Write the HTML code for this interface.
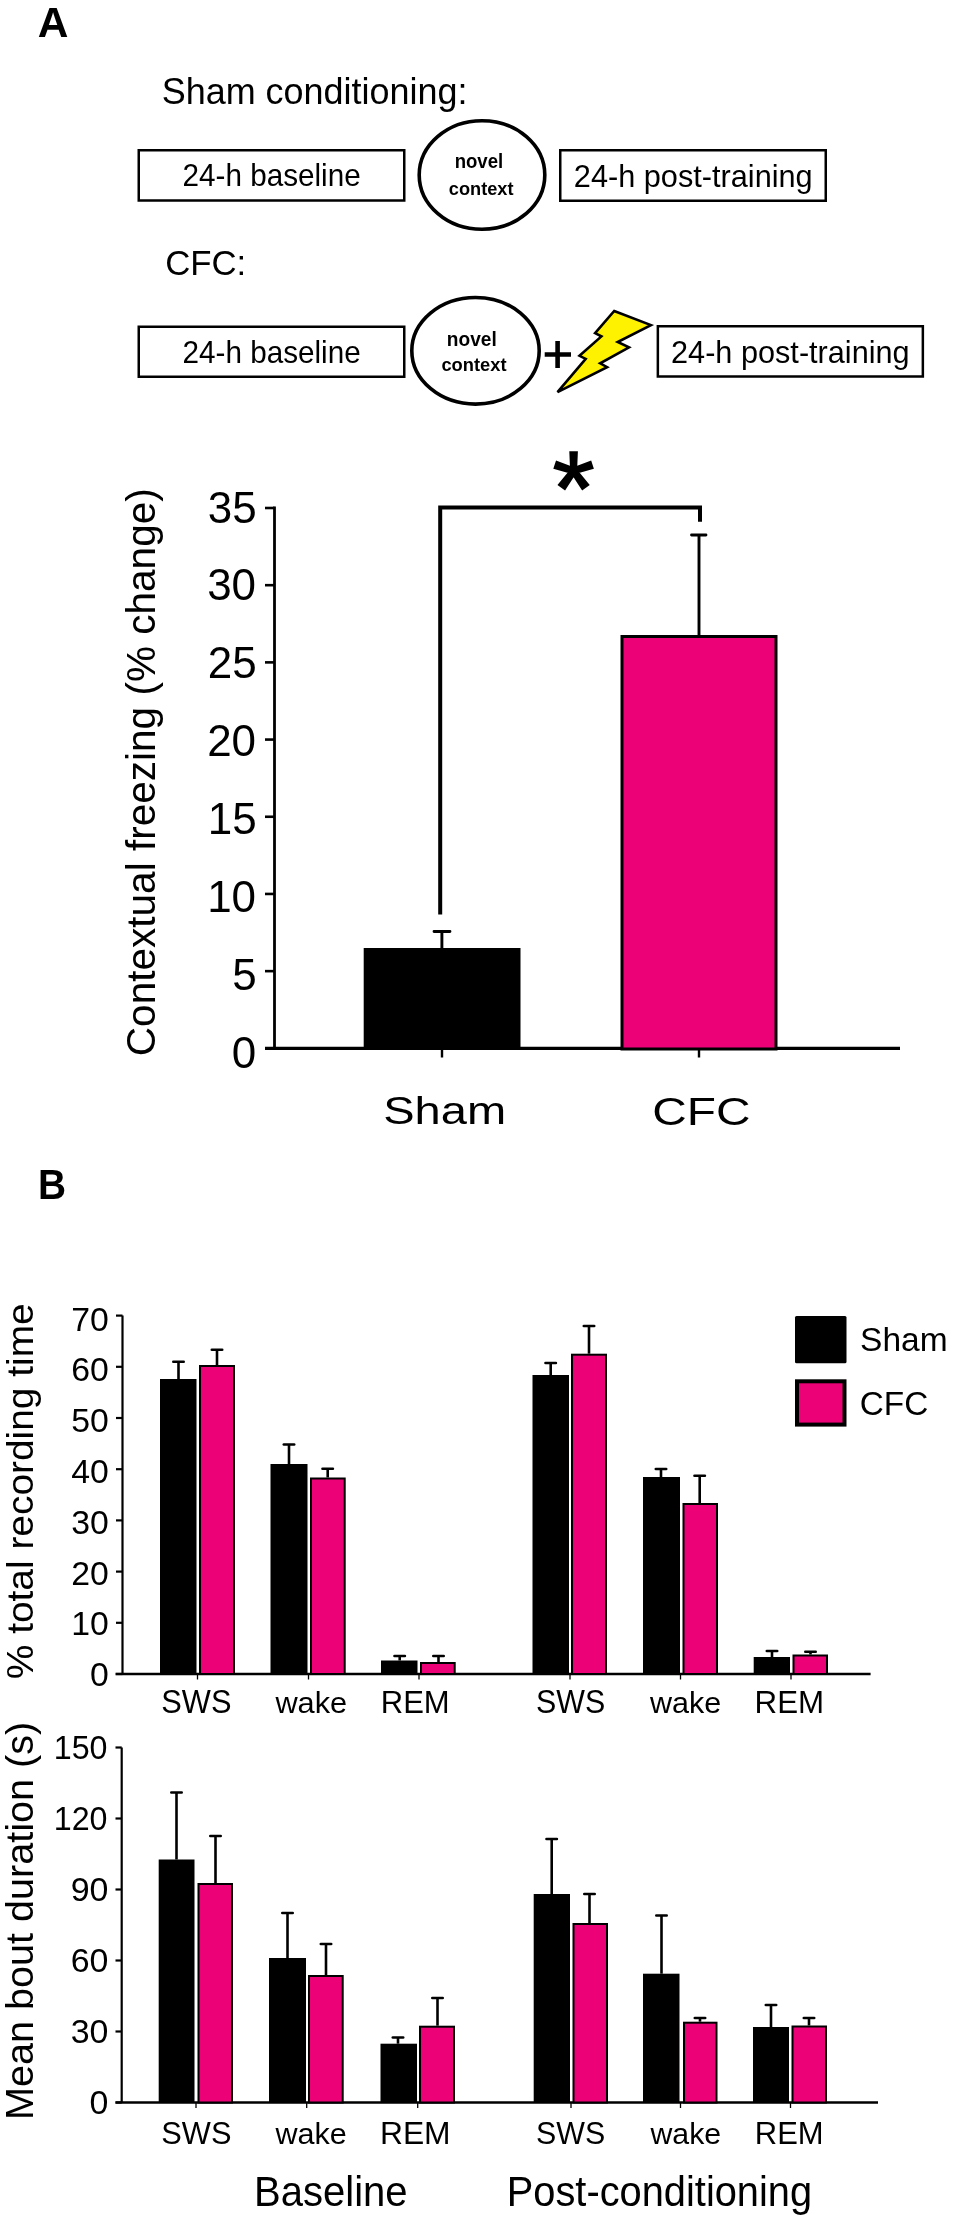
<!DOCTYPE html>
<html><head><meta charset="utf-8"><style>
html,body{margin:0;padding:0;background:#fff;}
svg{display:block;will-change:transform;}
text{font-family:"Liberation Sans",sans-serif;fill:#000;}
</style></head><body>
<svg width="957" height="2218" viewBox="0 0 957 2218">
<rect width="957" height="2218" fill="#fff"/>
<rect x="138.75" y="150.25" width="265.5" height="50.25" fill="none" stroke="#000" stroke-width="2.5"/>
<rect x="560.25" y="150.25" width="265.5" height="50.5" fill="none" stroke="#000" stroke-width="2.5"/>
<rect x="138.75" y="326.75" width="265.5" height="50" fill="none" stroke="#000" stroke-width="2.5"/>
<rect x="657.85" y="326.25" width="265" height="50.25" fill="none" stroke="#000" stroke-width="2.5"/>
<ellipse cx="482" cy="175" rx="62.8" ry="54.3" fill="none" stroke="#000" stroke-width="3.6"/>
<ellipse cx="475.5" cy="350.8" rx="63.7" ry="53.3" fill="none" stroke="#000" stroke-width="3.6"/>
<path d="M544.7 354.5H571M557.6 341V368" stroke="#000" stroke-width="4.6" fill="none"/>
<polygon points="614.2,311.0 650.9,325.1 617.7,342.0 629.0,347.4 600.2,363.3 607.1,367.1 557.5,392.2 585.7,358.9 579.5,355.8 601.4,336.4 595.1,333.2" fill="#FFF200" stroke="#000" stroke-width="2.6" stroke-linejoin="miter"/>
<path d="M274.5 506.6V1048.4" stroke="#000" stroke-width="2.8"/>
<path d="M265 508.00H274.5" stroke="#000" stroke-width="2.6"/>
<path d="M265 585.19H274.5" stroke="#000" stroke-width="2.6"/>
<path d="M265 662.38H274.5" stroke="#000" stroke-width="2.6"/>
<path d="M265 739.57H274.5" stroke="#000" stroke-width="2.6"/>
<path d="M265 816.76H274.5" stroke="#000" stroke-width="2.6"/>
<path d="M265 893.95H274.5" stroke="#000" stroke-width="2.6"/>
<path d="M265 971.14H274.5" stroke="#000" stroke-width="2.6"/>
<path d="M265 1048.33H274.5" stroke="#000" stroke-width="2.6"/>
<path d="M265 1048.4H900" stroke="#000" stroke-width="3.3"/>
<rect x="363.7" y="948" width="156.8" height="100.4" fill="#000"/>
<rect x="622" y="636.5" width="154" height="412.5" fill="#EC0176" stroke="#000" stroke-width="3"/>
<path d="M441.9 948V931.5M699 635V535" stroke="#000" stroke-width="2.9"/>
<path d="M434 931.5H450M691.5 535H706" stroke="#000" stroke-width="2.8" stroke-linecap="round"/>
<path d="M442 1048V1057.5M699 1048V1057.5" stroke="#000" stroke-width="2.4"/>
<path d="M440.2 914.6V507.6H700V521.7" stroke="#000" stroke-width="4" fill="none"/>
<path d="M577.00 472.80L577.90 451.20L569.30 451.20L570.20 472.80ZM576.55 468.18L556.03 460.47L553.31 468.84L574.45 474.65ZM572.75 474.65L593.89 468.84L591.17 460.47L570.65 468.18ZM572.02 467.18L557.45 485.03L565.06 490.55L577.53 471.18ZM569.67 471.18L582.14 490.55L589.75 485.03L575.18 467.18Z" fill="#000"/>
<path d="M122.5 1315.5V1674" stroke="#000" stroke-width="2.2"/>
<path d="M115.5 1674H870.6" stroke="#000" stroke-width="2.4"/>
<rect x="160" y="1379" width="36.50" height="295.00" fill="#000"/>
<path d="M178.5 1379V1361.7" stroke="#000" stroke-width="2.6"/>
<path d="M173.30 1361.7H183.70" stroke="#000" stroke-width="2.6" stroke-linecap="round"/>
<rect x="200.00" y="1366.00" width="34.00" height="308.00" fill="#EC0176" stroke="#000" stroke-width="2"/>
<path d="M217 1365V1349.75" stroke="#000" stroke-width="2.6"/>
<path d="M211.80 1349.75H222.20" stroke="#000" stroke-width="2.6" stroke-linecap="round"/>
<rect x="270.5" y="1464" width="37.00" height="210.00" fill="#000"/>
<path d="M289 1464V1444.5" stroke="#000" stroke-width="2.6"/>
<path d="M283.80 1444.5H294.20" stroke="#000" stroke-width="2.6" stroke-linecap="round"/>
<rect x="311.00" y="1478.50" width="33.70" height="195.50" fill="#EC0176" stroke="#000" stroke-width="2"/>
<path d="M327.7 1477.5V1468.7" stroke="#000" stroke-width="2.6"/>
<path d="M322.50 1468.7H332.90" stroke="#000" stroke-width="2.6" stroke-linecap="round"/>
<rect x="381" y="1660.5" width="36.50" height="13.50" fill="#000"/>
<path d="M399.7 1660.5V1656" stroke="#000" stroke-width="2.6"/>
<path d="M394.50 1656H404.90" stroke="#000" stroke-width="2.6" stroke-linecap="round"/>
<rect x="421.00" y="1663.00" width="33.70" height="11.00" fill="#EC0176" stroke="#000" stroke-width="2"/>
<path d="M438.5 1662V1656" stroke="#000" stroke-width="2.6"/>
<path d="M433.30 1656H443.70" stroke="#000" stroke-width="2.6" stroke-linecap="round"/>
<rect x="532.5" y="1375" width="36.50" height="299.00" fill="#000"/>
<path d="M550.7 1375V1363" stroke="#000" stroke-width="2.6"/>
<path d="M545.50 1363H555.90" stroke="#000" stroke-width="2.6" stroke-linecap="round"/>
<rect x="572.00" y="1354.70" width="34.00" height="319.30" fill="#EC0176" stroke="#000" stroke-width="2"/>
<path d="M589 1353.7V1326" stroke="#000" stroke-width="2.6"/>
<path d="M583.80 1326H594.20" stroke="#000" stroke-width="2.6" stroke-linecap="round"/>
<rect x="643" y="1477" width="37.00" height="197.00" fill="#000"/>
<path d="M661 1477V1469" stroke="#000" stroke-width="2.6"/>
<path d="M655.80 1469H666.20" stroke="#000" stroke-width="2.6" stroke-linecap="round"/>
<rect x="683.50" y="1504.00" width="33.50" height="170.00" fill="#EC0176" stroke="#000" stroke-width="2"/>
<path d="M699.7 1503V1475.7" stroke="#000" stroke-width="2.6"/>
<path d="M694.50 1475.7H704.90" stroke="#000" stroke-width="2.6" stroke-linecap="round"/>
<rect x="753.7" y="1657" width="36.30" height="17.00" fill="#000"/>
<path d="M772 1657V1651" stroke="#000" stroke-width="2.6"/>
<path d="M766.80 1651H777.20" stroke="#000" stroke-width="2.6" stroke-linecap="round"/>
<rect x="793.50" y="1655.50" width="33.50" height="18.50" fill="#EC0176" stroke="#000" stroke-width="2"/>
<path d="M810.5 1654.5V1651.7" stroke="#000" stroke-width="2.6"/>
<path d="M805.30 1651.7H815.70" stroke="#000" stroke-width="2.6" stroke-linecap="round"/>
<path d="M197.5 1674V1679.5" stroke="#000" stroke-width="1.3"/>
<path d="M308.5 1674V1679.5" stroke="#000" stroke-width="1.3"/>
<path d="M419 1674V1679.5" stroke="#000" stroke-width="1.3"/>
<path d="M570 1674V1679.5" stroke="#000" stroke-width="1.3"/>
<path d="M680.5 1674V1679.5" stroke="#000" stroke-width="1.3"/>
<path d="M791 1674V1679.5" stroke="#000" stroke-width="1.3"/>
<path d="M116 1674.00H122.5" stroke="#000" stroke-width="2.2"/>
<path d="M116 1622.80H122.5" stroke="#000" stroke-width="2.2"/>
<path d="M116 1571.60H122.5" stroke="#000" stroke-width="2.2"/>
<path d="M116 1520.40H122.5" stroke="#000" stroke-width="2.2"/>
<path d="M116 1469.20H122.5" stroke="#000" stroke-width="2.2"/>
<path d="M116 1418.00H122.5" stroke="#000" stroke-width="2.2"/>
<path d="M116 1366.80H122.5" stroke="#000" stroke-width="2.2"/>
<path d="M116 1315.60H122.5" stroke="#000" stroke-width="2.2"/>
<path d="M121.7 1747.5V2102.5" stroke="#000" stroke-width="2.2"/>
<path d="M115.5 2102.5H878" stroke="#000" stroke-width="2.4"/>
<rect x="158.7" y="1859.5" width="35.80" height="243.00" fill="#000"/>
<path d="M176.5 1859.5V1792.5" stroke="#000" stroke-width="2.6"/>
<path d="M171.30 1792.5H181.70" stroke="#000" stroke-width="2.6" stroke-linecap="round"/>
<rect x="198.50" y="1884.00" width="33.50" height="218.50" fill="#EC0176" stroke="#000" stroke-width="2"/>
<path d="M215.5 1883V1836" stroke="#000" stroke-width="2.6"/>
<path d="M210.30 1836H220.70" stroke="#000" stroke-width="2.6" stroke-linecap="round"/>
<rect x="269" y="1958" width="37.00" height="144.50" fill="#000"/>
<path d="M287.5 1958V1913" stroke="#000" stroke-width="2.6"/>
<path d="M282.30 1913H292.70" stroke="#000" stroke-width="2.6" stroke-linecap="round"/>
<rect x="309.00" y="1976.00" width="33.70" height="126.50" fill="#EC0176" stroke="#000" stroke-width="2"/>
<path d="M326 1975V1944" stroke="#000" stroke-width="2.6"/>
<path d="M320.80 1944H331.20" stroke="#000" stroke-width="2.6" stroke-linecap="round"/>
<rect x="380.5" y="2043.7" width="36.50" height="58.80" fill="#000"/>
<path d="M398 2043.7V2037.5" stroke="#000" stroke-width="2.6"/>
<path d="M392.80 2037.5H403.20" stroke="#000" stroke-width="2.6" stroke-linecap="round"/>
<rect x="420.00" y="2026.70" width="34.00" height="75.80" fill="#EC0176" stroke="#000" stroke-width="2"/>
<path d="M437.5 2025.7V1998" stroke="#000" stroke-width="2.6"/>
<path d="M432.30 1998H442.70" stroke="#000" stroke-width="2.6" stroke-linecap="round"/>
<rect x="533.7" y="1894" width="36.30" height="208.50" fill="#000"/>
<path d="M551.7 1894V1839" stroke="#000" stroke-width="2.6"/>
<path d="M546.50 1839H556.90" stroke="#000" stroke-width="2.6" stroke-linecap="round"/>
<rect x="573.50" y="1924.00" width="33.50" height="178.50" fill="#EC0176" stroke="#000" stroke-width="2"/>
<path d="M589.5 1923V1894" stroke="#000" stroke-width="2.6"/>
<path d="M584.30 1894H594.70" stroke="#000" stroke-width="2.6" stroke-linecap="round"/>
<rect x="643" y="1973.7" width="36.50" height="128.80" fill="#000"/>
<path d="M661.5 1973.7V1915.5" stroke="#000" stroke-width="2.6"/>
<path d="M656.30 1915.5H666.70" stroke="#000" stroke-width="2.6" stroke-linecap="round"/>
<rect x="684.00" y="2022.70" width="32.50" height="79.80" fill="#EC0176" stroke="#000" stroke-width="2"/>
<path d="M700 2021.7V2018" stroke="#000" stroke-width="2.6"/>
<path d="M694.80 2018H705.20" stroke="#000" stroke-width="2.6" stroke-linecap="round"/>
<rect x="753" y="2027" width="36.00" height="75.50" fill="#000"/>
<path d="M771 2027V2005" stroke="#000" stroke-width="2.6"/>
<path d="M765.80 2005H776.20" stroke="#000" stroke-width="2.6" stroke-linecap="round"/>
<rect x="792.50" y="2026.50" width="33.50" height="76.00" fill="#EC0176" stroke="#000" stroke-width="2"/>
<path d="M809 2025.5V2018" stroke="#000" stroke-width="2.6"/>
<path d="M803.80 2018H814.20" stroke="#000" stroke-width="2.6" stroke-linecap="round"/>
<path d="M196 2102.5V2108.0" stroke="#000" stroke-width="1.3"/>
<path d="M306.7 2102.5V2108.0" stroke="#000" stroke-width="1.3"/>
<path d="M417.7 2102.5V2108.0" stroke="#000" stroke-width="1.3"/>
<path d="M571 2102.5V2108.0" stroke="#000" stroke-width="1.3"/>
<path d="M680.5 2102.5V2108.0" stroke="#000" stroke-width="1.3"/>
<path d="M790.5 2102.5V2108.0" stroke="#000" stroke-width="1.3"/>
<path d="M115.5 2102.50H121.7" stroke="#000" stroke-width="2.2"/>
<path d="M115.5 2031.50H121.7" stroke="#000" stroke-width="2.2"/>
<path d="M115.5 1960.50H121.7" stroke="#000" stroke-width="2.2"/>
<path d="M115.5 1889.50H121.7" stroke="#000" stroke-width="2.2"/>
<path d="M115.5 1818.50H121.7" stroke="#000" stroke-width="2.2"/>
<path d="M115.5 1747.50H121.7" stroke="#000" stroke-width="2.2"/>
<rect x="795" y="1316" width="51.5" height="47.2" rx="1.5" fill="#000"/>
<rect x="797" y="1381.3" width="47.5" height="43.3" fill="#EC0176" stroke="#000" stroke-width="4"/>
<text transform="translate(37.64,36.60) scale(1.0021,1)" font-size="42.38" font-weight="bold">A</text>
<text transform="translate(37.97,1198.90) scale(0.9267,1)" font-size="41.96" font-weight="bold">B</text>
<text transform="translate(161.68,104.00) scale(0.9969,1)" font-size="36.09" font-weight="normal">Sham conditioning:</text>
<text transform="translate(165.17,275.00) scale(0.9932,1)" font-size="34.99" font-weight="normal">CFC:</text>
<text transform="translate(182.51,186.40) scale(0.9476,1)" font-size="31.32" font-weight="normal">24-h baseline</text>
<text transform="translate(573.86,186.50) scale(0.9800,1)" font-size="31.32" font-weight="normal">24-h post-training</text>
<text transform="translate(182.51,362.90) scale(0.9476,1)" font-size="31.32" font-weight="normal">24-h baseline</text>
<text transform="translate(671.06,362.90) scale(0.9792,1)" font-size="31.32" font-weight="normal">24-h post-training</text>
<text transform="translate(454.64,168.20) scale(0.9352,1)" font-size="19.88" font-weight="bold">novel</text>
<text transform="translate(448.83,194.60) scale(0.9561,1)" font-size="19.02" font-weight="bold">context</text>
<text transform="translate(446.81,345.60) scale(0.9748,1)" font-size="19.61" font-weight="bold">novel</text>
<text transform="translate(441.43,370.60) scale(0.9635,1)" font-size="19.02" font-weight="bold">context</text>
<text transform="translate(383.13,1124.40) scale(1.2263,1)" font-size="38.40" font-weight="normal">Sham</text>
<text transform="translate(652.36,1124.50) scale(1.2085,1)" font-size="39.54" font-weight="normal">CFC</text>
<text transform="translate(860.05,1351.10) scale(1.0132,1)" font-size="33.09" font-weight="normal">Sham</text>
<text transform="translate(859.74,1415.10) scale(0.9933,1)" font-size="33.56" font-weight="normal">CFC</text>
<text transform="translate(161.34,1713.20) scale(0.9498,1)" font-size="32.43" font-weight="normal">SWS</text>
<text transform="translate(275.38,1713.20) scale(1.0184,1)" font-size="30.23" font-weight="normal">wake</text>
<text transform="translate(380.78,1713.20) scale(0.9822,1)" font-size="31.57" font-weight="normal">REM</text>
<text transform="translate(536.05,1713.20) scale(0.9372,1)" font-size="32.43" font-weight="normal">SWS</text>
<text transform="translate(649.98,1713.20) scale(1.0098,1)" font-size="30.23" font-weight="normal">wake</text>
<text transform="translate(754.55,1713.20) scale(0.9914,1)" font-size="31.57" font-weight="normal">REM</text>
<text transform="translate(161.34,2144.00) scale(0.9625,1)" font-size="32.00" font-weight="normal">SWS</text>
<text transform="translate(275.48,2144.00) scale(1.0204,1)" font-size="29.96" font-weight="normal">wake</text>
<text transform="translate(379.91,2144.00) scale(1.0173,1)" font-size="31.29" font-weight="normal">REM</text>
<text transform="translate(536.05,2144.00) scale(0.9497,1)" font-size="32.00" font-weight="normal">SWS</text>
<text transform="translate(650.47,2144.00) scale(1.0117,1)" font-size="29.96" font-weight="normal">wake</text>
<text transform="translate(754.78,2144.00) scale(0.9896,1)" font-size="31.29" font-weight="normal">REM</text>
<text transform="translate(253.97,2205.60) scale(0.9483,1)" font-size="42.24" font-weight="normal">Baseline</text>
<text transform="translate(506.79,2205.60) scale(0.9426,1)" font-size="42.24" font-weight="normal">Post-conditioning</text>
<text transform="translate(155.00,1056.20) rotate(-90) scale(0.9931,1)" font-size="40.85" font-weight="normal">Contextual freezing (% change)</text>
<text transform="translate(33.30,1679.21) rotate(-90) scale(1.0270,1)" font-size="37.86" font-weight="normal">% total recording time</text>
<text transform="translate(33.20,2119.89) rotate(-90) scale(1.0272,1)" font-size="38.54" font-weight="normal">Mean bout duration (s)</text>
<text transform="translate(207.85,522.55) scale(0.985,1)" font-size="44.66">35</text>
<text transform="translate(207.16,600.45) scale(0.985,1)" font-size="44.66">30</text>
<text transform="translate(207.85,678.35) scale(0.985,1)" font-size="44.66">25</text>
<text transform="translate(207.16,756.25) scale(0.985,1)" font-size="44.66">20</text>
<text transform="translate(207.85,834.15) scale(0.985,1)" font-size="44.66">15</text>
<text transform="translate(207.16,912.05) scale(0.985,1)" font-size="44.66">10</text>
<text transform="translate(232.32,989.95) scale(0.985,1)" font-size="44.66">5</text>
<text transform="translate(231.63,1067.85) scale(0.985,1)" font-size="44.66">0</text>
<text transform="translate(90.04,1686.12) scale(1.0,1)" font-size="33.81">0</text>
<text transform="translate(71.24,1635.32) scale(1.0,1)" font-size="33.81">10</text>
<text transform="translate(71.24,1584.52) scale(1.0,1)" font-size="33.81">20</text>
<text transform="translate(71.24,1533.72) scale(1.0,1)" font-size="33.81">30</text>
<text transform="translate(71.24,1482.92) scale(1.0,1)" font-size="33.81">40</text>
<text transform="translate(71.24,1432.12) scale(1.0,1)" font-size="33.81">50</text>
<text transform="translate(71.24,1381.32) scale(1.0,1)" font-size="33.81">60</text>
<text transform="translate(71.24,1330.52) scale(1.0,1)" font-size="33.81">70</text>
<text transform="translate(89.57,2114.37) scale(1.0,1)" font-size="33.95">0</text>
<text transform="translate(70.69,2043.37) scale(1.0,1)" font-size="33.95">30</text>
<text transform="translate(70.69,1972.37) scale(1.0,1)" font-size="33.95">60</text>
<text transform="translate(70.69,1901.37) scale(1.0,1)" font-size="33.95">90</text>
<text transform="translate(53.69,1830.37) scale(0.95,1)" font-size="33.95">120</text>
<text transform="translate(53.69,1759.37) scale(0.95,1)" font-size="33.95">150</text>
</svg>
</body></html>
